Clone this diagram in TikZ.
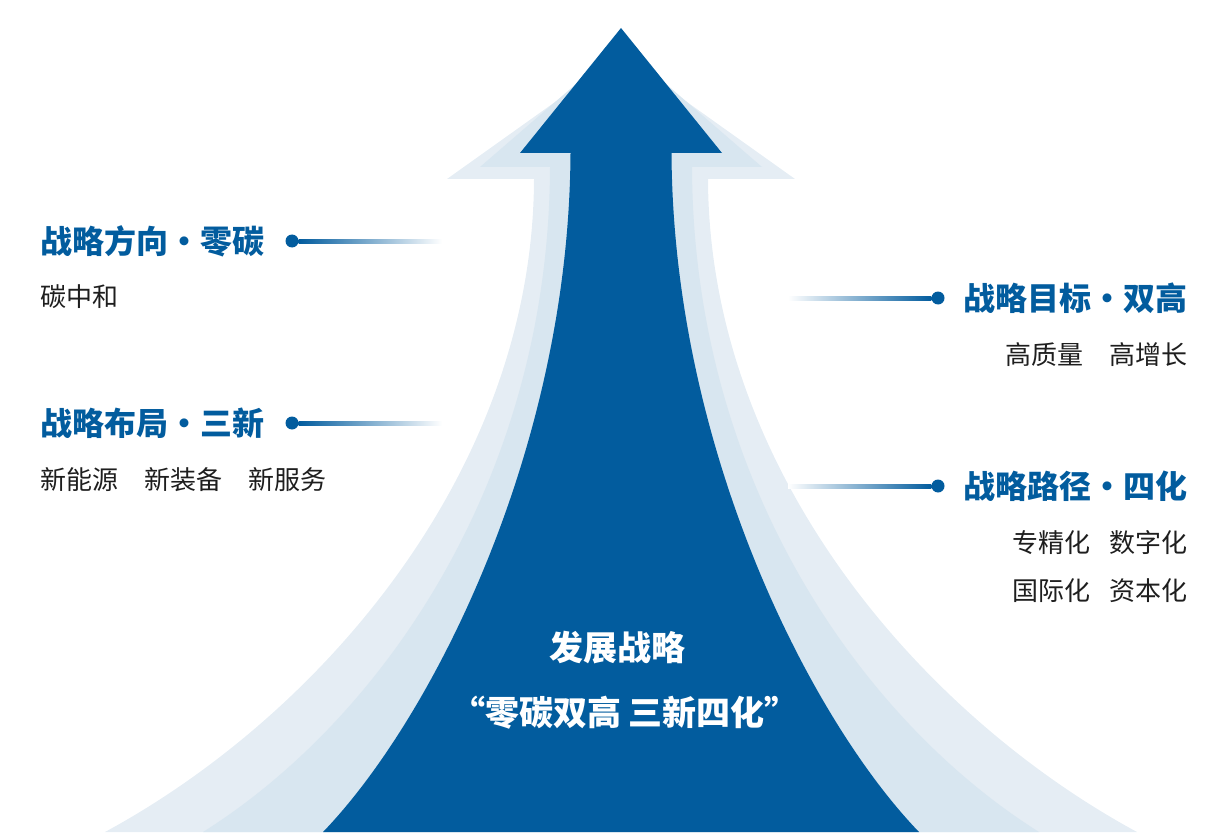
\documentclass[tikz,border=0pt]{standalone}
\usepackage{fontspec}
\setmainfont{Noto Sans CJK SC}
\usetikzlibrary{calc}
\definecolor{bl}{RGB}{2,92,158}
\definecolor{lmid}{RGB}{216,230,240}
\definecolor{lout}{RGB}{229,237,244}
\definecolor{txt}{RGB}{30,30,30}
\tikzset{
  ttl/.style={inner sep=0pt, text=bl, font=\fontsize{32}{38}\selectfont\bfseries},
  body/.style={inner sep=0pt, text=txt, font=\fontsize{26}{31}\selectfont},
  ctr/.style={inner sep=0pt, text=white, font=\fontsize{34}{40}\selectfont\bfseries},
  dotc/.style={circle, fill=bl, inner sep=0pt, minimum size=13pt},
}
\begin{document}
\begin{tikzpicture}[x=1pt,y=-1pt]
\useasboundingbox (0,0) rectangle (1226,837);
% layered arrows
\fill[lout] (105,832) .. controls (321,715) and (533,470) .. (534,179) -- (447,179) -- (621,55) -- (795,179) -- (708,179) .. controls (709,470) and (921,715) .. (1137,832) -- cycle;
\fill[lmid] (203,832) .. controls (381,720) and (549,480) .. (550,167) -- (480,167) -- (621,45) -- (762,167) -- (692,167) .. controls (693,480) and (861,720) .. (1039,832) -- cycle;
\fill[bl] (323,832) .. controls (431,720) and (569,450) .. (570.5,153) -- (520,153) -- (621,28) -- (722,153) -- (671.5,153) .. controls (673,450) and (811,720) .. (919,832) -- cycle;

% left items
\node[ttl, anchor=west] (t1) at (40,241) {战略方向・零碳};
\node[body, anchor=west] (b1) at (40,297) {碳中和};
\node[dotc] (d1) at (292,241) {};
\coordinate (e1) at (442,241);
\shade[left color=bl, right color=white] ($(d1.east)+(0,-2)$) rectangle ($(e1)+(0,2)$);

\node[ttl, anchor=west] (t2) at (40,423) {战略布局・三新};
\node[body, anchor=west] (b2) at (40,480) {新能源　新装备　新服务};
\node[dotc] (d2) at (292,423) {};
\coordinate (e2) at (442,423);
\shade[left color=bl, right color=white] ($(d2.east)+(0,-2)$) rectangle ($(e2)+(0,2)$);

% right items
\node[ttl, anchor=east] (t3) at (1188,298) {战略目标・双高};
\node[body, anchor=east] (b3) at (1188,355) {高质量　高增长};
\node[dotc] (d3) at (938,298) {};
\coordinate (e3) at (788,298);
\shade[left color=white, right color=bl] ($(e3)+(0,-2)$) rectangle ($(d3.west)+(0,2)$);

\node[ttl, anchor=east] (t4) at (1188,486) {战略路径・四化};
\node[body, anchor=east] (b4) at (1188,543) {专精化\hspace{19pt}数字化};
\node[body, anchor=east] (b5) at (1188,591) {国际化\hspace{19pt}资本化};
\node[dotc] (d4) at (938,486) {};
\coordinate (e4) at (788,486);
\shade[left color=white, right color=bl] ($(e4)+(0,-2)$) rectangle ($(d4.west)+(0,2)$);

% centre text
\node[ctr] (c1) at (617,648) {发展战略};
\node[ctr] (c2) at (625,713) {“零碳双高 三新四化”};
\end{tikzpicture}
\end{document}
